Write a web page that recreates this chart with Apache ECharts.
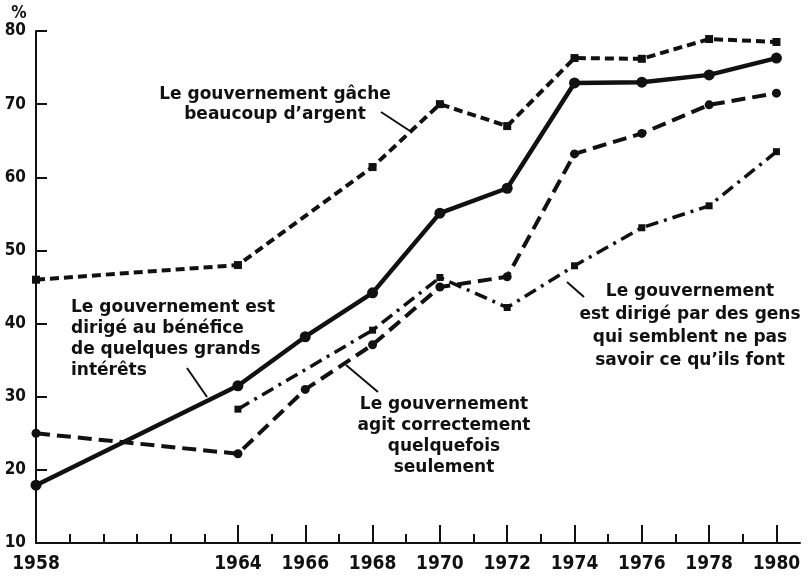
<!DOCTYPE html>
<html>
<head>
<meta charset="utf-8">
<script src="https://cdn.jsdelivr.net/npm/echarts@6/dist/echarts.min.js"></script>
<style>
html,body{margin:0;padding:0;background:#fff;}
#main{width:809px;height:576px;}
</style>
</head>
<body>
<div id="main"></div>
<script>
// années observées
var annees = [1958, 1964, 1966, 1968, 1970, 1972, 1974, 1976, 1978, 1980];
var gache = [46, 48, null, 61.4, 70, 67, 76.3, 76.2, 78.9, 78.5];
var grandsInterets = [17.9, 31.5, 38.2, 44.2, 55.1, 58.5, 72.9, 73, 74, 76.3];
var agitCorrectement = [25, 22.2, 31, 37.1, 45, 46.4, 63.2, 66, 69.9, 71.5];
var gensIncapables = [null, 28.3, null, 39.1, 46.3, 42.2, 47.9, 53.1, 56.1, 63.5];

// graduations
var etiquettesX = [1958, 1964, 1966, 1968, 1970, 1972, 1974, 1976, 1978, 1980];
var ticksLongs = [1964, 1966, 1968, 1970, 1972, 1974, 1976, 1978, 1980];
var ticksCourts = [1959, 1960, 1961, 1962, 1963, 1965, 1967, 1969, 1971, 1973, 1975, 1977, 1979];

var noir = '#111';
var policeAxe = "'DejaVu Sans Condensed', 'Liberation Sans Narrow', sans-serif";
var policeTexte = "bold 17px 'DejaVu Sans', sans-serif";

// paires [année, valeur] sans les trous
function paires(vals) {
  var res = [];
  for (var i = 0; i < annees.length; i++) {
    if (vals[i] != null) res.push([annees[i], vals[i]]);
  }
  return res;
}

function serie(nom, vals, symbole, taille, largeur, trait) {
  return {
    name: nom,
    type: 'line',
    xAxisIndex: 0,
    data: paires(vals),
    symbol: symbole,
    symbolSize: taille,
    showAllSymbol: true,
    itemStyle: { color: noir, borderWidth: 0 },
    lineStyle: { color: noir, width: largeur, type: trait, cap: 'butt' },
    animation: false,
    z: 3
  };
}

var chart = echarts.init(document.getElementById('main'), null, { renderer: 'canvas' });

var option = {
  backgroundColor: '#fff',
  grid: { left: 36, right: 9, top: 31, bottom: 33 },
  xAxis: [{
    type: 'value',
    min: 1958,
    max: 1980.7,
    splitLine: { show: false },
    axisLine: { lineStyle: { color: noir, width: 2 } },
    axisTick: { inside: true, length: 18, customValues: ticksLongs, lineStyle: { color: noir, width: 2 } },
    axisLabel: {
      customValues: etiquettesX,
      formatter: function (v) { return String(v); },
      color: noir, fontFamily: policeAxe, fontWeight: 'bold', fontSize: 19, margin: 12
    }
  }, {
    type: 'value',
    min: 1958,
    max: 1980.7,
    position: 'bottom',
    splitLine: { show: false },
    axisLine: { show: false },
    axisTick: { inside: true, length: 9, customValues: ticksCourts, lineStyle: { color: noir, width: 2 } },
    axisLabel: { show: false }
  }],
  yAxis: {
    type: 'value',
    min: 10,
    max: 80,
    interval: 10,
    splitLine: { show: false },
    axisLine: { show: true, lineStyle: { color: noir, width: 2 } },
    axisTick: { show: true, inside: true, length: 11, lineStyle: { color: noir, width: 2 } },
    axisLabel: { color: noir, fontFamily: policeAxe, fontWeight: 'bold', fontSize: 17, margin: 10 }
  },
  series: [
    serie('Le gouvernement gâche beaucoup d\'argent', gache, 'rect', 8, 4, [9, 5]),
    serie('Le gouvernement est dirigé au bénéfice de quelques grands intérêts', grandsInterets, 'circle', 11, 4.5, 'solid'),
    serie('Le gouvernement agit correctement quelquefois seulement', agitCorrectement, 'circle', 9, 4, [14, 7]),
    serie('Le gouvernement est dirigé par des gens qui semblent ne pas savoir ce qu\'ils font', gensIncapables, 'rect', 7, 3.5, [13, 6, 3, 6])
  ],
  graphic: [
    { type: 'text', x: 19, y: 5, style: { text: '%', font: "bold 17px " + policeAxe, fill: noir, textAlign: 'center' } },
    { type: 'text', x: 275, y: 85, style: { text: 'Le gouvernement gâche\nbeaucoup d\u2019argent', font: policeTexte, lineHeight: 20, fill: noir, textAlign: 'center' } },
    { type: 'line', shape: { x1: 381, y1: 112, x2: 410, y2: 131 }, style: { stroke: noir, lineWidth: 2 } },
    { type: 'text', x: 71, y: 297, style: { text: 'Le gouvernement est\ndirigé au bénéfice\nde quelques grands\nintérêts', font: policeTexte, lineHeight: 21, fill: noir, textAlign: 'left' } },
    { type: 'line', shape: { x1: 187, y1: 368, x2: 207, y2: 397 }, style: { stroke: noir, lineWidth: 2 } },
    { type: 'text', x: 444, y: 394, style: { text: 'Le gouvernement\nagit correctement\nquelquefois\nseulement', font: policeTexte, lineHeight: 21, fill: noir, textAlign: 'center' } },
    { type: 'line', shape: { x1: 346, y1: 365, x2: 378, y2: 392 }, style: { stroke: noir, lineWidth: 2 } },
    { type: 'text', x: 690, y: 280, style: { text: 'Le gouvernement\nest dirigé par des gens\nqui semblent ne pas\nsavoir ce qu\u2019ils font', font: policeTexte, lineHeight: 23, fill: noir, textAlign: 'center' } },
    { type: 'line', shape: { x1: 567, y1: 282, x2: 584, y2: 297 }, style: { stroke: noir, lineWidth: 2 } }
  ]
};

chart.setOption(option);
</script>
</body>
</html>
